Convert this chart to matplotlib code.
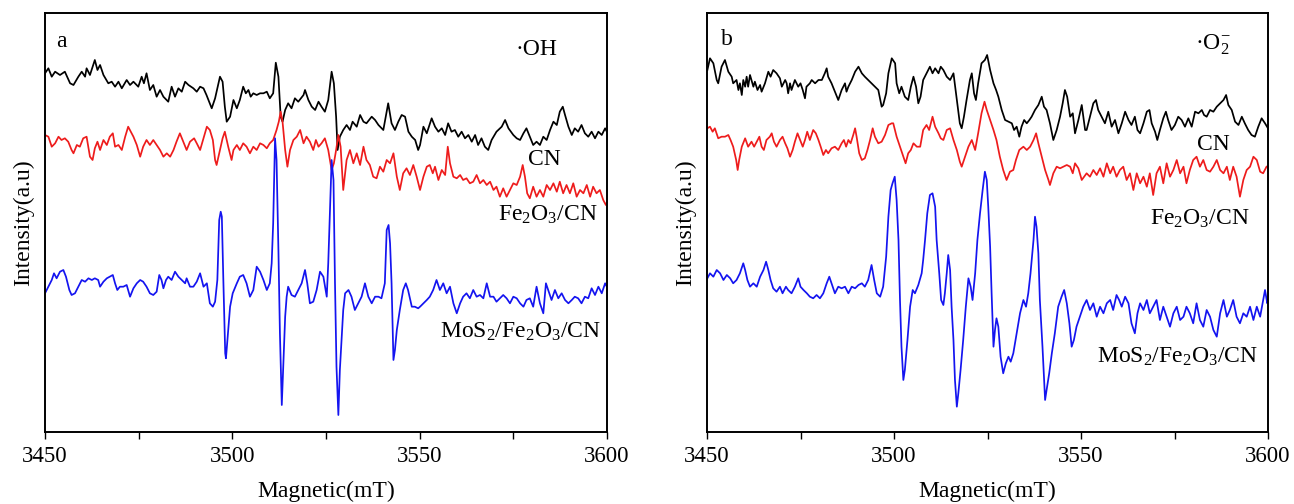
import numpy as np
import matplotlib
matplotlib.use('Agg')
import matplotlib.pyplot as plt

plt.rcParams['font.family'] = ['Liberation Serif', 'DejaVu Serif']
plt.rcParams['mathtext.fontset'] = 'custom'
plt.rcParams['mathtext.rm'] = 'Liberation Serif'
plt.rcParams['mathtext.it'] = 'Liberation Serif:italic'

# ---------------- data (field in mT, intensity in arbitrary units) ----------------
field_ticks = [3450, 3500, 3550, 3600]
minor_field_ticks = [3475, 3525, 3575]
series_labels = ['CN', 'Fe$_2$O$_3$/CN', 'MoS$_2$/Fe$_2$O$_3$/CN']
panel_titles = ['a', 'b']
radical_labels = ['·OH', '·O$_2^{-}$']

# panel a (·OH) -- CN (black)
oh_cn = [(3450.0,358.7),(3450.9,363.7),(3451.8,355.3),(3452.7,360.3),(3454.0,357),(3455.3,360.3),(3456.7,348.7),(3457.6,347),(3458.9,355.3),(3459.8,360.3),(3460.7,355.3),(3461.1,363.7),(3462.0,357),(3463.3,372),(3464.0,362),(3464.7,367),(3465.6,357),(3466.9,348.7),(3467.8,350.3),(3468.7,345.3),(3469.6,350.3),(3470.5,343.7),(3471.8,352),(3472.7,347),(3473.6,350.3),(3474.9,345.3),(3475.8,355.3),(3476.4,348.7),(3477.1,358.7),(3478.0,342),(3478.9,347),(3479.8,335.3),(3480.7,342),(3481.6,335.3),(3482.9,330.3),(3483.8,345.3),(3484.7,335.3),(3485.6,343.7),(3486.5,340.3),(3487.4,350.3),(3488.3,347),(3489.6,343.7),(3490.5,340.3),(3491.4,345.3),(3492.3,343.7),(3493.1,337),(3494.5,323.7),(3495.4,333.7),(3496.7,355.3),(3497.4,350.3),(3498.0,325.3),(3498.5,310.3),(3499.4,315.3),(3500.3,332),(3501.2,323.7),(3502.0,332),(3502.9,345.3),(3503.6,338.7),(3504.3,342),(3504.9,335.3),(3505.6,338.7),(3506.5,337),(3507.4,338.7),(3508.3,338.7),(3509.2,340.3),(3510.0,333.7),(3510.9,338.7),(3511.6,369.3),(3512.3,355.3),(3512.9,315.3),(3513.4,310.3),(3514.1,322),(3514.9,328.7),(3515.8,323.7),(3516.7,333.7),(3517.6,330.3),(3519.0,337),(3519.4,342),(3520.3,332),(3521.2,325.3),(3522.1,322),(3523.0,330.3),(3523.8,325.3),(3524.7,320.3),(3525.6,332),(3526.5,360.3),(3527.1,348.7),(3527.7,315.3),(3528.1,282),(3528.7,295.3),(3529.6,302),(3530.5,307),(3531.4,302),(3532.1,310.3),(3533.2,305.3),(3534.1,317),(3535.0,310.3),(3535.8,308.7),(3537.2,315.3),(3538.1,312),(3539.0,307),(3540.3,302),(3541.6,328.7),(3542.5,308.7),(3543.4,302),(3544.3,310.3),(3545.2,317),(3546.1,315.3),(3547.0,300.3),(3547.9,295.3),(3548.8,292),(3549.6,282),(3550.1,287),(3551.0,305.3),(3551.9,298.7),(3553.2,313.7),(3554.1,305.3),(3555.0,300.3),(3555.9,303.7),(3556.8,297),(3557.6,308.7),(3558.5,300.3),(3559.4,302),(3560.3,295.3),(3561.2,300.3),(3562.1,293.7),(3563.0,297),(3563.9,290.3),(3564.8,297),(3565.6,287),(3566.5,293.7),(3567.4,285.3),(3568.3,282),(3569.2,292),(3570.5,300.3),(3571.9,305.3),(3572.8,312),(3573.7,303.7),(3575.0,297),(3575.9,293.7),(3576.8,292),(3577.7,298.7),(3578.5,303.7),(3579.4,295.3),(3580.3,287),(3581.2,290.3),(3582.1,287),(3583.0,295.3),(3583.9,292),(3584.8,302),(3585.7,310.3),(3586.6,307),(3587.4,320.3),(3588.2,325.3),(3588.8,317),(3589.7,305.3),(3590.6,297),(3591.4,303.7),(3592.3,300.3),(3593.2,307),(3594.1,298.7),(3595.0,295.3),(3595.9,300.3),(3596.8,293.7),(3597.7,300.3),(3598.6,297),(3599.5,303.7),(3600.0,300)]

# panel a (·OH) -- Fe2O3/CN (red)
oh_fe = [(3450.0,297),(3450.9,295.3),(3451.8,285.3),(3452.7,288.7),(3453.6,295.3),(3454.4,292),(3455.3,293.7),(3456.2,290.3),(3457.1,282),(3457.6,278.7),(3458.5,287),(3459.3,285.3),(3460.2,293.7),(3461.1,295.3),(3462.0,275.3),(3462.7,272),(3463.3,283.7),(3464.0,290.3),(3464.7,282),(3465.6,292),(3466.5,287),(3467.3,295.3),(3468.1,298.7),(3468.7,285.3),(3469.6,287),(3470.5,282),(3471.4,295.3),(3472.2,305.3),(3472.9,300.3),(3473.6,295.3),(3474.5,287),(3475.4,275.3),(3476.2,285.3),(3477.1,292),(3478.0,287),(3478.9,292),(3479.8,287),(3480.7,282),(3481.6,275.3),(3482.5,278.7),(3483.4,275.3),(3484.3,282),(3485.1,290.3),(3486.0,298.7),(3486.9,290.3),(3487.8,282),(3488.7,290.3),(3489.8,293.7),(3490.5,288.7),(3491.4,282),(3492.3,293.7),(3493.2,305.3),(3494.0,302),(3494.8,292),(3495.4,272),(3495.8,267),(3496.7,282),(3497.4,293.7),(3498.0,300.3),(3498.9,285.3),(3499.8,272),(3500.3,282),(3501.2,287),(3502.0,282),(3502.9,288.7),(3503.8,285.3),(3504.7,278.7),(3505.6,285.3),(3506.5,282),(3507.4,288.7),(3508.3,287),(3509.2,283.7),(3510.0,288.7),(3510.9,292),(3511.8,302),(3512.4,310.3),(3512.9,320.3),(3513.4,310.3),(3514.1,282),(3514.7,265.3),(3515.4,282),(3516.3,292),(3517.2,295.3),(3518.1,302),(3519.0,288.7),(3519.8,295.3),(3520.7,290.3),(3521.6,282),(3522.3,292),(3523.0,285.3),(3523.8,288.7),(3524.7,293.7),(3525.6,282),(3526.5,262),(3527.1,268.7),(3527.7,282),(3528.3,297),(3528.9,285.3),(3529.6,242),(3530.5,272),(3531.4,282),(3532.3,268.7),(3533.2,278.7),(3534.1,267),(3535.0,285.3),(3535.8,272),(3536.7,267),(3537.6,255.3),(3538.5,253.7),(3539.4,265.3),(3540.3,260.3),(3541.2,272),(3542.1,268.7),(3543.0,278.7),(3543.9,255.3),(3544.7,242),(3545.6,258.7),(3546.5,263.7),(3547.4,257),(3548.3,267),(3549.2,255.3),(3550.1,242),(3551.0,255.3),(3551.9,265.3),(3552.7,267),(3553.5,258.7),(3554.1,265.3),(3555.0,252),(3555.9,262),(3556.8,257),(3557.5,285.3),(3558.1,268.7),(3559.0,255.3),(3559.9,253.7),(3560.8,257),(3561.6,252),(3562.5,253.7),(3563.4,248.7),(3564.3,250.3),(3565.2,257),(3566.1,248.7),(3567.0,252),(3567.9,247),(3568.8,250.3),(3569.7,242),(3570.5,245.3),(3571.4,235.3),(3572.3,243.7),(3573.2,235.3),(3574.1,242),(3575.0,248.7),(3575.9,247),(3576.8,255.3),(3577.5,267),(3578.1,255.3),(3578.7,238.7),(3579.4,233.7),(3580.3,245.3),(3581.2,235.3),(3582.1,242),(3583.0,235.3),(3583.9,247),(3584.8,242),(3585.7,248.7),(3586.6,240.3),(3587.4,250.3),(3588.3,238.7),(3589.2,247),(3590.1,238.7),(3591.0,248.7),(3591.9,235.3),(3592.8,242),(3593.7,238.7),(3594.6,247),(3595.5,235.3),(3596.3,245.3),(3597.2,238.7),(3598.1,242),(3599.0,232),(3599.7,227),(3600.0,230)]

# panel a (·OH) -- MoS2/Fe2O3/CN (blue)
oh_mo = [(3450.0,138.7),(3450.9,145.3),(3451.8,152),(3452.4,158.7),(3453.1,153.7),(3454.0,160.3),(3454.9,162),(3455.6,155.3),(3456.5,142),(3457.1,137),(3458.0,138.7),(3458.9,145.3),(3459.8,152),(3460.7,150.3),(3461.6,153.7),(3462.5,152),(3463.3,153.7),(3464.2,152),(3464.7,145.3),(3465.6,150.3),(3466.5,153.7),(3467.3,155.3),(3468.1,157),(3468.7,148.7),(3469.3,142),(3470.0,145.3),(3470.9,145.3),(3471.8,147),(3472.7,135.3),(3473.6,143.7),(3474.5,148.7),(3475.4,152),(3476.2,150.3),(3477.1,145.3),(3478.0,138.7),(3478.9,137),(3479.8,140.3),(3480.5,157),(3481.1,152),(3481.6,143.7),(3482.3,152),(3482.9,155.3),(3483.8,152),(3484.7,160.3),(3485.6,155.3),(3486.5,152),(3487.4,148.7),(3487.8,153.7),(3488.7,145.3),(3489.6,145.3),(3490.5,150.3),(3491.4,158.7),(3492.3,145.3),(3493.2,148.7),(3494.0,128.7),(3494.8,125.3),(3495.4,130.3),(3496.0,152),(3496.5,212),(3496.9,220.3),(3497.2,215.3),(3497.6,152),(3498.1,78.7),(3498.3,73.7),(3498.7,92),(3499.4,125.3),(3500.1,138.7),(3501.2,148.7),(3502.0,155.3),(3502.9,157),(3503.8,148.7),(3504.7,135.3),(3505.6,142),(3506.5,165.3),(3507.4,160.3),(3508.3,152),(3509.2,142),(3510.0,148.7),(3510.5,168.7),(3510.9,208.7),(3511.4,293.7),(3511.8,272),(3512.3,182),(3512.7,98.7),(3513.2,27),(3513.6,65.3),(3514.1,115.3),(3514.5,135.3),(3514.9,145.3),(3515.8,137),(3516.7,135.3),(3517.6,142),(3518.5,148.7),(3519.4,162),(3520.0,148.7),(3520.7,128.7),(3521.6,130.3),(3522.5,142),(3523.4,160.3),(3524.3,155.3),(3525.2,135.3),(3525.6,168.7),(3526.1,225.3),(3526.5,272),(3527.0,252),(3527.4,148.7),(3527.8,65.3),(3528.3,17),(3528.7,62),(3529.6,122),(3530.1,138.7),(3531.0,142),(3531.8,135.3),(3532.7,122),(3533.6,128.7),(3534.5,135.3),(3535.4,148.7),(3536.3,135.3),(3537.2,128.7),(3538.1,135.3),(3539.0,135.3),(3539.8,133.7),(3540.7,148.7),(3541.2,202),(3541.7,207),(3542.1,188.7),(3542.5,148.7),(3543.0,72),(3543.4,82),(3543.9,102),(3544.7,122),(3545.6,142),(3546.3,148.7),(3546.9,142),(3547.9,125.3),(3548.7,125.3),(3549.6,123.7),(3550.1,125.3),(3551.0,128.7),(3551.9,132),(3552.7,135.3),(3553.6,142),(3554.5,152),(3555.4,142),(3556.3,148.7),(3557.2,138.7),(3558.1,145.3),(3559.0,128.7),(3559.9,118.7),(3560.8,128.7),(3561.6,135.3),(3562.5,138.7),(3563.4,133.7),(3564.3,142),(3565.2,135.3),(3566.1,137),(3567.0,133.7),(3567.9,148.7),(3568.8,135.3),(3569.7,135.3),(3570.5,130.3),(3571.4,133.7),(3572.3,137),(3573.2,133.7),(3574.1,128.7),(3575.0,135.3),(3575.9,133.7),(3576.8,128.7),(3577.7,125.3),(3578.5,132),(3579.4,133.7),(3580.3,125.3),(3581.2,145.3),(3582.1,128.7),(3583.0,118.7),(3583.7,148.7),(3584.3,142),(3585.2,132),(3586.1,142),(3587.0,133.7),(3587.9,138.7),(3588.8,132),(3589.7,128.7),(3590.6,132),(3591.4,135.3),(3592.3,133.7),(3593.2,128.7),(3594.1,135.3),(3595.0,133.7),(3595.9,143.7),(3596.8,137),(3597.7,145.3),(3598.6,138.7),(3599.5,148.7),(3600.0,145)]

# panel b (·O2-) -- CN (black)
o2_cn = [(3450.1,362),(3450.8,373.7),(3451.7,368.7),(3452.6,352),(3453.0,348.7),(3453.9,365.3),(3454.8,372),(3455.7,360.3),(3456.6,355.3),(3457.0,348.7),(3457.9,352),(3458.4,342),(3458.8,348.7),(3459.3,337),(3459.7,352),(3460.2,345.3),(3460.6,355.3),(3461.0,345.3),(3461.5,357),(3462.4,345.3),(3462.8,350.3),(3463.5,342),(3464.2,347),(3464.6,340.3),(3465.5,348.7),(3466.4,360.3),(3467.0,355.3),(3467.7,362),(3468.6,358.7),(3469.5,353.7),(3470.0,345.3),(3470.9,352),(3471.3,348.7),(3471.7,338.7),(3472.2,348.7),(3472.6,342),(3473.5,352),(3474.4,345.3),(3475.0,348.7),(3475.6,342),(3476.2,333.7),(3476.6,345.3),(3477.5,348.7),(3478.0,352),(3478.9,348.7),(3479.8,352),(3480.7,352),(3481.5,358.7),(3482.0,363.7),(3482.4,355.3),(3483.3,348.7),(3484.2,340.3),(3485.1,332),(3486.0,342),(3486.9,348.7),(3487.3,340.3),(3487.8,345.3),(3488.7,352),(3489.6,360.3),(3490.5,365.3),(3491.4,358.7),(3492.2,355.3),(3493.1,352),(3494.0,348.7),(3494.9,345.3),(3495.8,342),(3496.7,325.3),(3497.1,327),(3497.9,338.7),(3498.5,358.7),(3499.4,373.7),(3500.3,368.7),(3500.7,348.7),(3501.4,338.7),(3502.0,345.3),(3502.9,335.3),(3503.8,332),(3504.5,345.3),(3505.2,355.3),(3505.9,345.3),(3506.5,328.7),(3507.1,335.3),(3507.8,352),(3508.7,358.7),(3509.6,365.3),(3510.3,358.7),(3511.0,363.7),(3511.9,358.7),(3512.5,365.3),(3513.2,362),(3514.1,355.3),(3515.0,352),(3515.9,358.7),(3516.8,332),(3517.6,308.7),(3518.1,303.7),(3518.7,315.3),(3519.4,332),(3520.3,352),(3520.8,358.7),(3521.4,338.7),(3521.9,332),(3522.5,348.7),(3523.4,368.7),(3524.3,372),(3524.9,377),(3525.7,362),(3526.6,348.7),(3527.3,342),(3527.9,335.3),(3528.8,322),(3529.7,312),(3530.6,310.3),(3531.5,308.7),(3532.1,302),(3532.8,305.3),(3533.5,295.3),(3534.1,305.3),(3534.8,312),(3535.5,308.7),(3536.2,312),(3536.8,315.3),(3537.7,322),(3538.6,327),(3539.5,335.3),(3540.1,325.3),(3540.8,322),(3541.7,308.7),(3542.6,292),(3543.5,302),(3544.4,315.3),(3545.1,328.7),(3545.7,342),(3546.3,335.3),(3547.1,315.3),(3547.8,318.7),(3548.4,298.7),(3549.3,312),(3550.2,327),(3551.1,302),(3551.5,302),(3552.4,315.3),(3553.3,328.7),(3554.0,332),(3554.6,322),(3555.5,315.3),(3556.4,308.7),(3557.3,320.3),(3558.2,305.3),(3559.1,312),(3560.0,298.7),(3560.9,308.7),(3561.8,320.3),(3562.7,312),(3563.5,307),(3564.4,315.3),(3565.1,302),(3565.8,298.7),(3566.7,308.7),(3567.6,320.3),(3568.3,322),(3568.9,308.7),(3569.8,300.3),(3570.4,292),(3571.1,302),(3572.0,313.7),(3572.7,320.3),(3573.3,312),(3574.2,302),(3575.1,307),(3576.0,315.3),(3576.9,312),(3577.8,305.3),(3578.7,313.7),(3579.6,305.3),(3580.5,320.3),(3581.4,318.7),(3582.3,322),(3582.9,317),(3583.6,315.3),(3584.5,322),(3585.4,320.3),(3586.3,325.3),(3587.2,328.7),(3588.1,332),(3588.8,337),(3589.4,327),(3590.3,322),(3591.2,310.3),(3592.1,307),(3593.0,315.3),(3593.8,308.7),(3594.7,302),(3595.6,297),(3596.5,295.3),(3597.4,305.3),(3598.3,313.7),(3599.2,308.7),(3600.0,303.7)]

# panel b (·O2-) -- Fe2O3/CN (red)
o2_fe = [(3450.1,303.7),(3450.8,305.3),(3451.5,300.3),(3452.1,303.7),(3453.0,293.7),(3453.9,295.3),(3454.8,295.3),(3455.7,297),(3456.3,292),(3457.0,285.3),(3457.8,272),(3458.2,262),(3458.6,272),(3459.3,285.3),(3460.2,293.7),(3461.0,285.3),(3461.9,290.3),(3462.6,285.3),(3463.3,290.3),(3464.0,295.3),(3464.6,285.3),(3465.2,282),(3465.9,292),(3466.8,295.3),(3467.3,298.7),(3467.9,290.3),(3468.6,285.3),(3469.5,292),(3470.2,295.3),(3470.9,288.7),(3471.5,283.7),(3472.2,275.3),(3472.9,282),(3473.5,290.3),(3474.2,298.7),(3474.9,292),(3475.6,285.3),(3476.2,292),(3476.8,300.3),(3477.5,292),(3478.4,302),(3479.1,298.7),(3479.8,292),(3480.4,285.3),(3481.1,277),(3481.8,282),(3482.4,278.7),(3483.3,283.7),(3484.2,285.3),(3485.1,282),(3486.0,288.7),(3486.6,292),(3487.2,285.3),(3487.8,292),(3488.4,288.7),(3489.1,297),(3489.6,303.7),(3490.0,295.3),(3490.7,278.7),(3491.4,272),(3492.2,273.7),(3492.9,282),(3493.6,292),(3494.3,303.7),(3494.9,295.3),(3495.8,288.7),(3496.7,290.3),(3497.6,297),(3498.5,307),(3499.4,308.7),(3499.8,308.7),(3500.7,295.3),(3501.6,285.3),(3502.5,275.3),(3503.1,268.7),(3503.8,278.7),(3504.5,282),(3505.2,288.7),(3506.1,285.3),(3507.0,285.3),(3507.8,302),(3508.7,307),(3509.4,302),(3510.3,315.3),(3511.0,305.3),(3511.9,298.7),(3512.5,293.7),(3513.2,292),(3514.1,302),(3515.0,303.7),(3515.9,292),(3516.8,282),(3517.6,270.3),(3518.1,265.3),(3519.0,275.3),(3519.9,285.3),(3520.8,292),(3521.7,282),(3522.5,298.7),(3523.4,318.7),(3524.2,330.3),(3524.8,322),(3525.7,312),(3526.6,302),(3527.4,292),(3528.3,275.3),(3529.2,262),(3530.1,252),(3531.0,260.3),(3531.9,262),(3532.6,272),(3533.5,282),(3534.6,285.3),(3535.5,282),(3536.4,285.3),(3537.3,292),(3538.0,298.7),(3538.6,288.7),(3539.5,275.3),(3540.4,262),(3541.3,252),(3541.7,247),(3542.6,258.7),(3543.5,265.3),(3544.4,263.7),(3545.3,265.3),(3546.2,267),(3547.1,265.3),(3547.8,258.7),(3548.4,268.7),(3549.3,263.7),(3550.2,252),(3551.5,258.7),(3552.4,255.3),(3553.3,262),(3554.2,257),(3555.1,263.7),(3556.0,255.3),(3556.9,268.7),(3557.8,258.7),(3558.6,265.3),(3559.5,255.3),(3560.4,262),(3561.3,265.3),(3562.2,252),(3563.1,258.7),(3564.0,242),(3564.9,258.7),(3565.8,248.7),(3566.7,255.3),(3567.6,245.3),(3568.4,258.7),(3569.3,237),(3570.2,258.7),(3571.1,265.3),(3572.0,248.7),(3572.9,268.7),(3573.8,255.3),(3574.7,262),(3575.6,272),(3576.5,258.7),(3577.4,265.3),(3578.2,248.7),(3579.1,262),(3580.0,272),(3580.9,275.3),(3581.8,265.3),(3582.7,272),(3583.6,262),(3584.5,260.3),(3585.4,265.3),(3586.3,272),(3587.2,262),(3588.1,258.7),(3589.0,265.3),(3589.8,252),(3590.7,265.3),(3591.6,255.3),(3592.5,235.3),(3593.4,252),(3594.3,262),(3595.2,265.3),(3596.1,275.3),(3597.0,272),(3597.9,260.3),(3598.7,258.7),(3599.6,265.3),(3600.0,266)]

# panel b (·O2-) -- MoS2/Fe2O3/CN (blue)
o2_mo = [(3450.1,153.7),(3450.8,158.7),(3451.7,155.3),(3452.6,162),(3453.5,158.7),(3454.4,152),(3455.3,157),(3456.2,153.7),(3457.0,148.7),(3457.9,152),(3458.8,158.7),(3459.7,168.7),(3460.2,162),(3460.8,152),(3461.5,145.3),(3462.4,148.7),(3463.3,145.3),(3464.2,155.3),(3465.1,162),(3465.8,170.3),(3466.4,162),(3467.0,152),(3467.7,143.7),(3468.6,140.3),(3469.5,145.3),(3470.2,138.7),(3471.1,145.3),(3471.7,142),(3472.6,138.7),(3473.5,145.3),(3474.4,153.7),(3475.0,145.3),(3475.8,142),(3476.7,138.7),(3477.5,135.3),(3478.4,133.7),(3479.3,137),(3480.2,133.7),(3481.1,138.7),(3482.0,148.7),(3482.7,155.3),(3483.3,148.7),(3484.2,138.7),(3485.1,145.3),(3486.0,143.7),(3486.9,145.3),(3487.8,138.7),(3488.7,145.3),(3489.6,143.7),(3490.5,147),(3491.4,148.7),(3492.2,145.3),(3493.1,152),(3494.0,167),(3494.7,152),(3495.4,138.7),(3496.3,135.3),(3497.1,145.3),(3497.9,175.3),(3498.5,215.3),(3499.1,242),(3499.6,248.7),(3500.2,255.3),(3500.7,232),(3501.2,192),(3501.6,132),(3502.0,85.3),(3502.5,52),(3502.9,62),(3503.6,92),(3504.3,125.3),(3505.0,142),(3505.6,138.7),(3506.5,147),(3507.4,158.7),(3507.8,172),(3508.3,192),(3508.9,218.7),(3509.6,237),(3510.3,238.7),(3511.0,225.3),(3511.4,192),(3512.1,158.7),(3512.6,132),(3513.2,127),(3513.6,138.7),(3514.1,158.7),(3514.5,177),(3515.0,162),(3515.4,125.3),(3515.9,92),(3516.3,52),(3516.8,25.3),(3517.2,38.7),(3517.8,62),(3518.5,92),(3519.2,125.3),(3519.9,153.7),(3520.5,145.3),(3521.0,132),(3521.7,158.7),(3522.3,192),(3523.0,218.7),(3523.7,242),(3524.3,260.3),(3524.8,252),(3525.2,225.3),(3525.7,185.3),(3526.1,138.7),(3526.6,85.3),(3527.0,102),(3527.4,113.7),(3527.9,105.3),(3528.5,75.3),(3529.2,58.7),(3529.9,68.7),(3530.6,75.3),(3531.2,70.3),(3531.9,78.7),(3532.8,98.7),(3533.7,118.7),(3534.6,132),(3535.3,125.3),(3535.9,138.7),(3536.5,158.7),(3537.3,192),(3537.7,215.3),(3538.1,205.3),(3538.6,178.7),(3539.0,132),(3539.7,85.3),(3540.4,32),(3540.8,42),(3541.5,58.7),(3542.2,78.7),(3543.0,98.7),(3543.9,125.3),(3544.8,135.3),(3545.5,142),(3546.2,128.7),(3546.9,108.7),(3547.5,85.3),(3548.1,92),(3548.8,105.3),(3549.7,115.3),(3550.6,125.3),(3551.5,132),(3552.4,122),(3553.3,128.7),(3554.2,115.3),(3555.1,125.3),(3556.0,118.7),(3556.9,128.7),(3557.8,132),(3558.6,122),(3559.5,137),(3560.2,132),(3560.9,125.3),(3561.8,135.3),(3562.7,128.7),(3563.5,108.7),(3564.4,98.7),(3565.1,118.7),(3565.8,128.7),(3566.7,122),(3567.6,132),(3568.4,118.7),(3569.3,125.3),(3570.2,132),(3571.1,112),(3572.0,125.3),(3572.9,115.3),(3573.8,105.3),(3574.7,118.7),(3575.6,125.3),(3576.5,112),(3577.4,115.3),(3578.2,125.3),(3579.1,118.7),(3580.0,108.7),(3580.9,128.7),(3581.8,112),(3582.7,105.3),(3583.6,122),(3584.5,115.3),(3585.4,102),(3586.3,95.3),(3587.2,118.7),(3588.1,132),(3589.0,115.3),(3589.8,122),(3590.7,132),(3591.6,115.3),(3592.5,108.7),(3593.4,118.7),(3594.3,115.3),(3595.2,125.3),(3596.1,112),(3597.0,125.3),(3597.9,115.3),(3598.7,132),(3599.2,142),(3599.8,128.7),(3600.0,132)]

panel_a = [oh_cn, oh_fe, oh_mo]
panel_b = [o2_cn, o2_fe, o2_mo]
line_colors = ['black', '#ee1c1c', '#1414f0']

# ---------------- figure ----------------
W, H = 1294, 504
fig = plt.figure(figsize=(W / 100, H / 100), dpi=100)
ax_a = fig.add_axes([45 / W, 72 / H, 562 / W, 419 / H])
ax_b = fig.add_axes([707 / W, 72 / H, 561 / W, 419 / H])

# label placement (field, intensity) for each panel
label_pos_a = [(3583.4, 272), (3584.2, 217), (3576.8, 100)]
label_pos_b = [(3585.3, 287), (3581.8, 213), (3575.7, 75)]
radical_pos = [(3581.3, 382), (3585.3, 387)]
title_pos = [(3454.5, 390), (3455.3, 392)]

for k, (ax, data, lpos) in enumerate([(ax_a, panel_a, label_pos_a), (ax_b, panel_b, label_pos_b)]):
    for series, col in zip(data, line_colors):
        arr = np.array(series)
        ax.plot(arr[:, 0], arr[:, 1], color=col, lw=1.25)
    for lab, (x, y) in zip(series_labels, lpos):
        ax.text(x, y, lab, ha='center', va='center', fontsize=17)
    ax.text(radical_pos[k][0], radical_pos[k][1], radical_labels[k], ha='center', va='center', fontsize=17)
    ax.text(title_pos[k][0], title_pos[k][1], panel_titles[k], ha='center', va='center', fontsize=17)

    ax.set_xlim(field_ticks[0], field_ticks[-1])
    ax.set_ylim(0, 419)
    ax.set_yticks([])
    ax.set_xticks(field_ticks)
    ax.set_xticks(minor_field_ticks, minor=True)
    ax.tick_params(axis='x', which='both', direction='out', length=5, width=1.0, labelsize=16.5, pad=5)
    for sp in ax.spines.values():
        sp.set_linewidth(1.4)
    ax.set_xlabel('Magnetic(mT)', fontsize=17, labelpad=10)
    ax.set_ylabel('Intensity(a.u)', fontsize=17, labelpad=8)

fig.savefig('out.png', dpi=100)
